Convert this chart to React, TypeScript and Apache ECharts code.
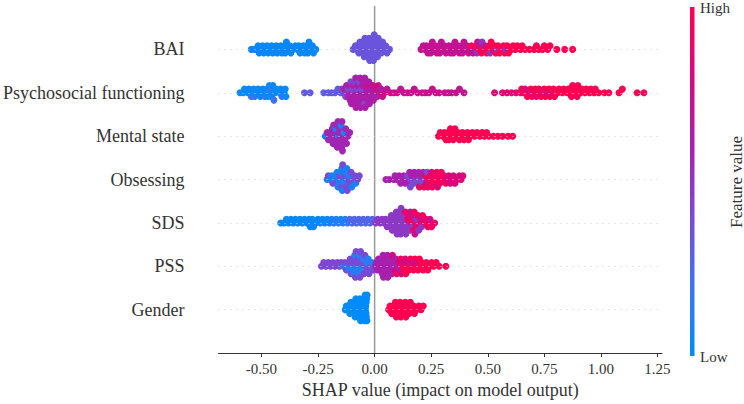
import React, { useEffect, useRef } from "react";
import * as echarts from "echarts";

const featureNames = ["BAI", "Psychosocial functioning", "Mental state", "Obsessing", "SDS", "PSS", "Gender"];
const xTicks = [-0.5, -0.25, 0, 0.25, 0.5, 0.75, 1, 1.25];
const colorStops = ["#008bfb", "#3f73f0", "#7a4ad6", "#a820ad", "#d40a80", "#ff0052"];

// ---- BAI (SHAP values, grouped by feature-value level) ----
const baiLow = [-0.545, -0.53, -0.52, -0.51, -0.515, -0.5, -0.49, -0.495, -0.48, -0.47, -0.475, -0.46, -0.45, -0.455, -0.44, -0.43, -0.435, -0.42, -0.41, -0.415, -0.4, -0.39, -0.395, -0.398, -0.38, -0.37, -0.375, -0.36, -0.35, -0.34, -0.33, -0.335, -0.32, -0.31, -0.315, -0.3, -0.29, -0.295, -0.298, -0.28, -0.27, -0.275, -0.26];
const baiMid = [-0.095, -0.085, -0.078, -0.074, -0.07, -0.065, -0.058, -0.055, -0.052, -0.049, -0.046, -0.043, -0.038, -0.036, -0.033, -0.03, -0.028, -0.025, -0.022, -0.019, -0.017, -0.015, -0.012, -0.01, -0.008, -0.005, -0.002, 0.002, 0.004, 0.007, 0.01, 0.013, 0.016, 0.022, 0.026, 0.03, 0.035, 0.043, 0.049, 0.055, 0.066];
const baiHighA = [0.205, 0.215, 0.222, 0.228, 0.235, 0.242, 0.245, 0.248, 0.255, 0.262, 0.268, 0.275, 0.282, 0.285, 0.288, 0.295, 0.302, 0.308, 0.315, 0.322, 0.328, 0.335, 0.342, 0.345, 0.348, 0.355, 0.362, 0.368, 0.375, 0.382, 0.385, 0.388, 0.395, 0.402, 0.408, 0.415, 0.422, 0.435, 0.442, 0.455, 0.465, 0.488];
const baiHighB = [0.452, 0.475, 0.51, 0.54, 0.58];
const baiHighC = [0.428, 0.448, 0.462, 0.472, 0.482, 0.495, 0.502, 0.508, 0.515, 0.522, 0.53, 0.535, 0.545, 0.552, 0.562, 0.57, 0.575, 0.585, 0.592, 0.605, 0.612, 0.622, 0.63, 0.645, 0.652, 0.665, 0.685, 0.705, 0.715, 0.725, 0.742, 0.75, 0.765, 0.775, 0.805, 0.84, 0.875];

// ---- Psychosocial functioning ----
const psyLow = [-0.595, -0.58, -0.575, -0.56, -0.555, -0.54, -0.535, -0.52, -0.515, -0.5, -0.495, -0.505, -0.48, -0.475, -0.47, -0.46, -0.455, -0.45, -0.465, -0.44, -0.435, -0.42, -0.415, -0.4, -0.395, -0.392];
const psyLow2 = [-0.545, -0.53, -0.485, -0.457, -0.445, -0.41];
const psyMidBlue = [-0.31, -0.285, -0.225, -0.205, -0.19, -0.175, -0.162, -0.15];
const psyPileA = [-0.145, -0.135, -0.128, -0.118, -0.105, -0.098, -0.088, -0.078, -0.068, -0.058, -0.045];
const psyPileB = [-0.132, -0.124, -0.119, -0.115, -0.112, -0.109, -0.102, -0.099, -0.096, -0.093, -0.091, -0.086, -0.084, -0.082, -0.079, -0.076, -0.074, -0.071, -0.066, -0.064, -0.062, -0.059, -0.056, -0.053, -0.051, -0.048, -0.044, -0.042, -0.038, -0.035, -0.032, -0.029, -0.026, -0.023, -0.018, -0.014, -0.01, -0.005, 0.004, 0.012, 0.028];
const psyPileC = [-0.03, -0.008, 0.008, 0.016, 0.024, 0.035, 0.044];
const psyLine = [0.055, 0.07, 0.085, 0.1, 0.115, 0.13, 0.145, 0.16, 0.175, 0.19, 0.21, 0.225, 0.24, 0.255, 0.27, 0.285, 0.31, 0.325, 0.34, 0.36, 0.375, 0.395];
const psyHighA = [0.53, 0.565, 0.585, 0.605, 0.625, 0.645, 0.665, 0.68, 0.7, 0.715, 0.74, 0.76, 0.78];
const psyHighB = [0.65, 0.66, 0.675, 0.69, 0.695, 0.71, 0.72, 0.725, 0.735, 0.75, 0.755, 0.77, 0.775, 0.79, 0.795, 0.81, 0.815, 0.83, 0.835, 0.85, 0.855, 0.862, 0.865, 0.87, 0.875, 0.885, 0.89, 0.895, 0.898, 0.91, 0.915, 0.93, 0.935, 0.95, 0.955, 0.97, 0.975, 0.99, 1.015, 1.035, 1.08, 1.095, 1.16, 1.19];

// ---- Mental state ----
const msLow = [-0.218, -0.172, -0.16, -0.148, -0.135];
const msMid = [-0.21, -0.204, -0.198, -0.195, -0.191, -0.187, -0.184, -0.181, -0.179, -0.177, -0.175, -0.17, -0.168, -0.165, -0.162, -0.159, -0.157, -0.154, -0.151, -0.146, -0.144, -0.142, -0.138, -0.132, -0.128, -0.124, -0.118, -0.11];
const msHigh = [0.282, 0.29, 0.302, 0.308, 0.315, 0.322, 0.325, 0.328, 0.335, 0.342, 0.345, 0.348, 0.355, 0.362, 0.368, 0.375, 0.382, 0.388, 0.395, 0.402, 0.41, 0.415, 0.422, 0.432, 0.442, 0.452, 0.465, 0.475, 0.485, 0.495, 0.505, 0.525, 0.545, 0.565, 0.59, 0.61];

// ---- Obsessing ----
const obLow = [-0.21, -0.195, -0.19, -0.178, -0.174, -0.166, -0.162, -0.159, -0.153, -0.15, -0.145, -0.143, -0.138, -0.132, -0.129, -0.123, -0.114, -0.101, -0.083];
const obMid = [-0.205, -0.185, -0.17, -0.156, -0.147, -0.141, -0.135, -0.126, -0.121, -0.118, -0.108, -0.104, -0.095, -0.088, -0.075, -0.068];
const obHighA = [0.05, 0.065, 0.085, 0.09, 0.1, 0.108, 0.115, 0.122, 0.128, 0.135, 0.142, 0.148, 0.155, 0.165, 0.175, 0.185, 0.195, 0.205, 0.215];
const obHighB = [0.145, 0.158, 0.162, 0.172, 0.182, 0.188, 0.2, 0.212, 0.222, 0.232];
const obHighC = [0.198, 0.218, 0.226, 0.235, 0.242, 0.245, 0.248, 0.255, 0.262, 0.265, 0.268, 0.275, 0.282, 0.285, 0.288, 0.295, 0.302, 0.308, 0.315];
const obHighD = [0.228, 0.252, 0.278, 0.322, 0.328, 0.335, 0.342, 0.348, 0.355, 0.365, 0.375, 0.382, 0.39];

// ---- SDS ----
const sdsLow = [-0.415, -0.4, -0.39, -0.38, -0.37, -0.36, -0.35, -0.34, -0.33, -0.32, -0.31, -0.3, -0.29, -0.285, -0.28, -0.275, -0.27, -0.26, -0.25, -0.24, -0.23, -0.22, -0.21, -0.2];
const sdsLow2 = [-0.19, -0.18, -0.17, -0.16, -0.15, -0.14, -0.13, -0.12];
const sdsLow3 = [-0.11, -0.1, -0.09, -0.08, -0.07, -0.06, -0.05, -0.04, -0.03, -0.02, -0.01];
const sdsMid = [0.005, 0.013, 0.025, 0.033, 0.043, 0.048, 0.055, 0.062, 0.066, 0.07, 0.074, 0.078, 0.081, 0.084, 0.087, 0.09, 0.093, 0.096, 0.099, 0.101, 0.103, 0.105, 0.108, 0.11, 0.112, 0.115, 0.117, 0.121, 0.124, 0.127, 0.13, 0.134, 0.138, 0.143, 0.149, 0.155, 0.168, 0.185, 0.195, 0.208];
const sdsHighM = [0.158, 0.17, 0.178, 0.205, 0.245];
const sdsHigh = [0.136, 0.146, 0.152, 0.162, 0.165, 0.172, 0.175, 0.182, 0.188, 0.192, 0.202, 0.212, 0.222, 0.228, 0.235, 0.242, 0.252, 0.265];

// ---- PSS ----
const pssLine = [-0.235, -0.225, -0.215, -0.205, -0.195, -0.185, -0.175, -0.165, -0.155, -0.148];
const pssLow = [-0.138, -0.118, -0.112, -0.099, -0.095, -0.091, -0.088, -0.079, -0.075, -0.071, -0.068, -0.058, -0.054, -0.05, -0.035, -0.028, -0.012];
const pssMidP = [-0.132, -0.125, -0.115, -0.108, -0.104, -0.097, -0.093, -0.085, -0.082, -0.077, -0.073, -0.065, -0.062, -0.056, -0.047, -0.043, -0.038, -0.032, -0.025, -0.018, -0.006];
const pssMag = [0.004, 0.008, 0.013, 0.017, 0.022, 0.025, 0.028, 0.031, 0.034, 0.037, 0.039, 0.041, 0.044, 0.047, 0.05, 0.053, 0.056, 0.058, 0.062, 0.066, 0.07, 0.074, 0.077, 0.083, 0.088, 0.094, 0.104, 0.112];
const pssHighM = [0.079, 0.092, 0.108, 0.118, 0.125, 0.135, 0.148, 0.165, 0.185];
const pssHighR = [0.098, 0.115, 0.122, 0.128, 0.138, 0.142, 0.152, 0.158, 0.162, 0.172, 0.178, 0.182, 0.192, 0.198, 0.202, 0.208, 0.215, 0.222, 0.228, 0.235, 0.245, 0.252, 0.262, 0.272, 0.285, 0.315];

// ---- Gender ----
const genderLow = [-0.13, -0.125, -0.118, -0.114, -0.11, -0.105, -0.098, -0.095, -0.092, -0.089, -0.086, -0.083, -0.079, -0.077, -0.074, -0.071, -0.068, -0.065, -0.062, -0.059, -0.057, -0.055, -0.052, -0.05, -0.048, -0.045, -0.042, -0.04, -0.039, -0.038, -0.037, -0.036, -0.035, -0.034, -0.033];
const genderHigh = [0.062, 0.068, 0.075, 0.082, 0.085, 0.088, 0.092, 0.096, 0.102, 0.105, 0.108, 0.112, 0.116, 0.122, 0.126, 0.13, 0.135, 0.138, 0.142, 0.148, 0.152, 0.158, 0.165, 0.172, 0.176, 0.185, 0.195, 0.205, 0.215];

// rows: [shap values, feature value level (0 = low, 1 = high)]
const rows: [number[], number][][] = [
  [[baiLow, 0.03], [baiMid, 0.35], [baiHighA, 0.72], [baiHighB, 0.5], [baiHighC, 1]],
  [[psyLow, 0.02], [psyLow2, 0.18], [psyMidBlue, 0.32], [psyPileA, 0.42], [psyPileB, 0.62], [psyPileC, 0.75], [psyLine, 0.72], [psyHighA, 0.85], [psyHighB, 1]],
  [[msLow, 0.05], [msMid, 0.57], [msHigh, 1]],
  [[obLow, 0.08], [obMid, 0.4], [obHighA, 0.6], [obHighB, 0.4], [obHighC, 0.95], [obHighD, 0.82]],
  [[sdsLow, 0.03], [sdsLow2, 0.1], [sdsLow3, 0.27], [sdsMid, 0.48], [sdsHighM, 0.75], [sdsHigh, 0.92]],
  [[pssLine, 0.42], [pssLow, 0.12], [pssMidP, 0.4], [pssMag, 0.6], [pssHighM, 0.8], [pssHighR, 1]],
  [[genderLow, 0.0], [genderHigh, 1]],
];

const BIN = 0.02;
const LAYER = 0.0846;

function buildPoints(): number[][] {
  const out: number[][] = [];
  rows.forEach((groups, r) => {
    const yBase = featureNames.length - r;
    const pts: [number, number][] = [];
    groups.forEach(([vals, f]) => vals.forEach((v) => pts.push([v, f])));
    pts.sort((a, b) => a[0] - b[0]);
    const counts = new Map<number, number>();
    pts.forEach(([x, f]) => {
      const b = Math.floor((x + 10) / BIN + 1e-6);
      const k = counts.get(b) || 0;
      counts.set(b, k + 1);
      const off = Math.ceil(k / 2) * (k % 2 === 1 ? 1 : -1);
      out.push([x, yBase + off * LAYER, f]);
    });
  });
  return out;
}

const FONT = "'Liberation Serif', 'Times New Roman', serif";

export default function App() {
  const ref = useRef<HTMLDivElement>(null);
  useEffect(() => {
    if (!ref.current) return;
    const chart = echarts.init(ref.current, undefined, { renderer: "svg" });
    const n = colorStops.length;
    const gradStops = colorStops.map((c, i) => ({ offset: i / (n - 1), color: c }));
    chart.setOption({
      animation: false,
      backgroundColor: "#ffffff",
      grid: { left: 217, right: 82, top: 6, bottom: 48 },
      xAxis: {
        type: "value",
        min: -0.69,
        max: 1.27,
        axisLine: { show: true, onZero: false, lineStyle: { color: "#333333", width: 1 } },
        axisTick: { show: true, length: 4, customValues: xTicks, lineStyle: { color: "#333333" } },
        axisLabel: {
          customValues: xTicks,
          formatter: (v: number) => v.toFixed(2),
          fontFamily: FONT,
          fontSize: 15,
          color: "#333333",
          margin: 8,
        },
        splitLine: { show: false },
        name: "SHAP value (impact on model output)",
        nameLocation: "middle",
        nameGap: 19,
        nameTextStyle: { fontFamily: FONT, fontSize: 18, color: "#333333" },
      },
      yAxis: {
        type: "value",
        min: 0,
        max: 8,
        interval: 1,
        axisLine: { show: false },
        axisTick: { show: false },
        splitLine: { show: false },
        axisLabel: {
          formatter: (v: number) => featureNames[featureNames.length - v] ?? "",
          fontFamily: FONT,
          fontSize: 18,
          color: "#333333",
          margin: 34,
        },
      },
      visualMap: {
        show: false,
        type: "continuous",
        dimension: 2,
        min: 0,
        max: 1,
        seriesIndex: 1,
        inRange: { color: colorStops },
      },
      graphic: [
        {
          type: "rect",
          shape: { x: 690, y: 7, width: 4.5, height: 349 },
          style: {
            fill: { type: "linear", x: 0, y: 1, x2: 0, y2: 0, colorStops: gradStops },
          },
        },
        { type: "text", x: 700, y: 8, style: { text: "High", font: `15px ${FONT}`, fill: "#333333", verticalAlign: "middle" } },
        { type: "text", x: 700, y: 357, style: { text: "Low", font: `15px ${FONT}`, fill: "#333333", verticalAlign: "middle" } },
        {
          type: "text",
          x: 736,
          y: 182,
          rotation: Math.PI / 2,
          style: { text: "Feature value", font: `17px ${FONT}`, fill: "#333333", align: "center", verticalAlign: "middle" },
        },
      ],
      series: [
        {
          type: "line",
          data: [[0, 0], [0, 8]],
          symbol: "none",
          silent: true,
          z: 1,
          lineStyle: { color: "#999999", width: 1.5 },
          markLine: {
            silent: true,
            symbol: ["none", "none"],
            label: { show: false },
            lineStyle: { color: "#cccccc", width: 1, type: [1, 5] },
            data: [1, 2, 3, 4, 5, 6, 7].map((v) => ({ yAxis: v })),
          },
        },
        {
          type: "scatter",
          data: buildPoints(),
          symbolSize: 7,
          z: 3,
          itemStyle: { opacity: 1, borderWidth: 0 },
        },
      ],
    });
    return () => chart.dispose();
  }, []);
  return <div ref={ref} style={{ position: "absolute", left: 0, top: 0, width: 744, height: 404 }} />;
}
